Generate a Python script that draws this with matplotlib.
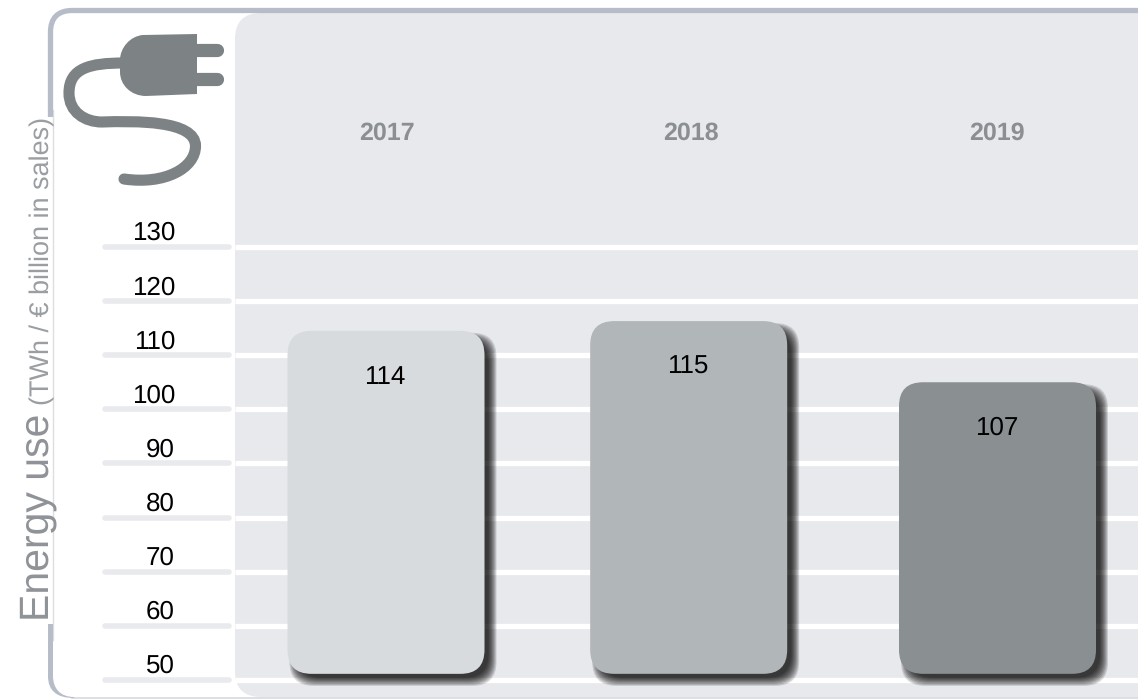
import matplotlib
matplotlib.use('Agg')
import matplotlib.pyplot as plt
from matplotlib.patches import FancyBboxPatch, PathPatch
from matplotlib.path import Path
from matplotlib.transforms import Affine2D

plt.rcParams['font.family'] = ['Liberation Sans', 'DejaVu Sans']
plt.rcParams['text.hinting'] = 'none'
plt.rcParams['text.hinting_factor'] = 1

years = ['2017', '2018', '2019']
bar_labels = [114, 115, 107]
# bar tops as they are drawn in the picture, not quite the printed numbers
bar_tops = [114.5, 116.3, 105.0]
bar_base = 51.1
bar_x = [0, 0.99, 2]
year_x = [0.003, 0.996, 1.997]
ticks = [130, 120, 110, 100, 90, 80, 70, 60, 50]
bar_colors = ['#d8dbde', '#b1b6b9', '#8a8f92']

W, H = 1138, 699
X_SCALE = 305.75  # px per category
Y_SCALE = 5.41    # px per unit

fig = plt.figure(figsize=(W / 100, H / 100), dpi=100)
ax = fig.add_axes([0, 0, 1, 1])
ax.set_xlim(-386 / X_SCALE, (W - 386) / X_SCALE)
ax.set_ylim(130 - (H - 247) / Y_SCALE, 130 + 247 / Y_SCALE)
ax.axis('off')

# decorations are placed in picture pixels, y going down
px = Affine2D().scale(1, -1).translate(0, H)


def rounded(x0, x1, y0, y1, r, **kw):
    return FancyBboxPatch((x0, y0), x1 - x0, y1 - y0, boxstyle=f'round,pad=0,rounding_size={r}',
                          transform=px, **kw)


# panel behind the chart
ax.add_patch(rounded(235, 1200, 13, 697, 26, fc='#e8e9ed', ec='none', zorder=1))

# frame
ax.plot([53, 53], [110, 640], color='#dcdee2', lw=1, transform=px, zorder=1)
ax.plot([72, 1138], [697.5, 697.5], color='#d6d9de', lw=1.2, transform=px, zorder=1)
frame_top = Path([(50.5, 117), (50.5, 32), (50.5, 18), (58, 10.5), (72, 10.5), (1138, 10.5)],
                 [Path.MOVETO, Path.LINETO, Path.CURVE4, Path.CURVE4, Path.CURVE4, Path.LINETO])
ax.add_patch(PathPatch(frame_top, fc='none', ec='#b6bdc9', lw=3.8, capstyle='butt', transform=px, zorder=1))
# the lower corner tapers into the thin bottom line
frame_bot = Path([(48, 624), (48, 676), (48, 690), (56, 698), (74, 698), (74, 697), (60, 697), (53, 688), (53, 676),
                  (53, 624), (48, 624)],
                 [Path.MOVETO, Path.LINETO, Path.CURVE4, Path.CURVE4, Path.CURVE4, Path.LINETO,
                  Path.CURVE4, Path.CURVE4, Path.CURVE4, Path.LINETO, Path.CLOSEPOLY])
ax.add_patch(PathPatch(frame_bot, fc='#b6bdc9', ec='none', transform=px, zorder=1))

# plug
body = Path([(197, 34), (143, 35), (130, 36), (120, 48), (120, 60), (120, 72), (120, 85), (131, 96), (146, 96),
             (197, 94), (197, 34)],
            [Path.MOVETO, Path.LINETO, Path.CURVE4, Path.CURVE4, Path.CURVE4, Path.LINETO,
             Path.CURVE4, Path.CURVE4, Path.CURVE4, Path.LINETO, Path.CLOSEPOLY])
ax.add_patch(PathPatch(body, fc='#7d8285', ec='none', transform=px, zorder=2))
ax.plot([195, 217], [50, 50], color='#7d8285', lw=9.5, solid_capstyle='round', transform=px, zorder=2)
ax.plot([195, 217], [78.5, 78.5], color='#7d8285', lw=9.5, solid_capstyle='round', transform=px, zorder=2)
cord = Path([(124, 63), (90, 63), (69, 68), (69, 93), (69, 112), (85, 122), (102, 122), (135, 121), (195.5, 120),
             (195.5, 146), (195.5, 168), (165, 185), (124, 179)],
            [Path.MOVETO] + [Path.CURVE4] * 12)
ax.add_patch(PathPatch(cord, fc='none', ec='#7d8285', lw=8, capstyle='round', transform=px, zorder=2))

# grid and left ticks
ax.hlines(ticks, (235 - 386) / X_SCALE, (W - 386) / X_SCALE, color='white', lw=3.8, zorder=2)
for t in ticks:
    ax.plot([(105 - 386) / X_SCALE, (229 - 386) / X_SCALE], [t, t], color='#e9eaed', lw=4,
            solid_capstyle='round', zorder=2)
    ax.text((175 - 386) / X_SCALE, t + 13.5 / Y_SCALE, str(t), ha='right', va='center', fontsize=18.8,
            color='black', zorder=5)

# bars with soft shadow
aspect = X_SCALE / Y_SCALE
shadow = ax.transData + Affine2D().translate(7, -7)
half = 98.5 / X_SCALE
for x, yx, top, lab, col, year in zip(bar_x, year_x, bar_tops, bar_labels, bar_colors, years):
    for grow in [5, 4, 3, 2, 1, 0, -1, -2, -3]:
        gx, gy = grow / X_SCALE, grow / Y_SCALE
        ax.add_patch(FancyBboxPatch((x - half - gx, bar_base - gy), 2 * half + 2 * gx, top - bar_base + 2 * gy,
                                    boxstyle=f'round,pad=0,rounding_size={24 / X_SCALE}',
                                    mutation_aspect=aspect, fc='black', ec='none', alpha=0.14,
                                    transform=shadow, zorder=3))
    ax.add_patch(FancyBboxPatch((x - half, bar_base), 2 * half, top - bar_base,
                                boxstyle=f'round,pad=0,rounding_size={24 / X_SCALE}',
                                mutation_aspect=aspect, fc=col, ec='none', zorder=4))
    ax.text(x - 1 / X_SCALE, top - 46 / Y_SCALE, str(lab), ha='center', va='center', fontsize=18.8,
            color='black', zorder=5)
    ax.text(yx, 130 + 114 / Y_SCALE, year, ha='center', va='center', fontsize=17.8,
            fontweight='bold', color='#8b8f93', zorder=5)

# axis title, two sizes on one rotated line
ax.text(38, 621, 'Energy use', rotation=90, ha='center', va='bottom', fontsize=29.5, color='#8f9397',
        transform=px, zorder=5)
ax.text(42, 405, '(TWh / € billion in sales)', rotation=90, ha='center', va='bottom', fontsize=19.2,
        color='#9a9ea2', transform=px, zorder=5)

fig.savefig('out.png', dpi=100)
